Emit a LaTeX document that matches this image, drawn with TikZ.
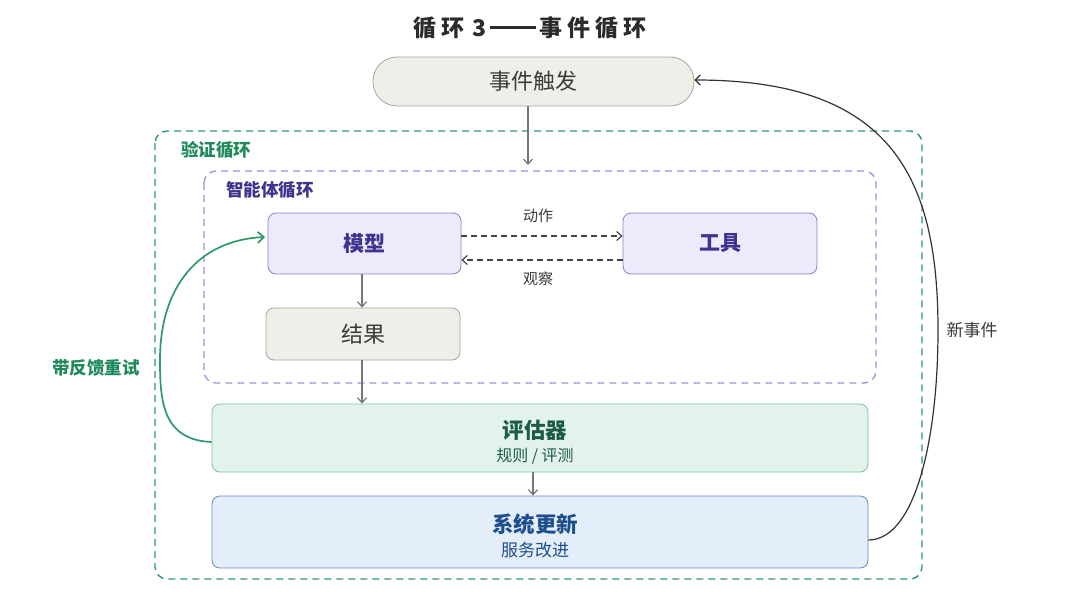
\documentclass[tikz,border=0pt]{standalone}
\usepackage{fontspec}
\setmainfont{Noto Sans CJK SC}
\usetikzlibrary{arrows.meta}
\definecolor{titlec}{HTML}{2B2B2B}
\definecolor{grayfill}{HTML}{F0EEE9}
\definecolor{graydraw}{HTML}{A9A59D}
\definecolor{graytext}{HTML}{3A3A3A}
\definecolor{greendash}{HTML}{2E9A6A}
\definecolor{greentext}{HTML}{1E8A5A}
\definecolor{purpdash}{HTML}{9D90DD}
\definecolor{purptext}{HTML}{3E348F}
\definecolor{modfill}{HTML}{ECEAFB}
\definecolor{moddraw}{HTML}{8A80D0}
\definecolor{evfill}{HTML}{E2F3EB}
\definecolor{evdraw}{HTML}{80C2A2}
\definecolor{evtext}{HTML}{1D5C44}
\definecolor{sysfill}{HTML}{E3EEFA}
\definecolor{sysdraw}{HTML}{6B8CC0}
\definecolor{systext}{HTML}{1E4F8C}
\definecolor{arrowgray}{HTML}{777777}
\definecolor{darkline}{HTML}{444444}
\tikzset{
  box/.style={draw, rounded corners=8pt, line width=0.8pt, inner sep=0pt},
  graybox/.style={box, fill=grayfill, draw=graydraw, text=graytext},
  modbox/.style={box, fill=modfill, draw=moddraw, text=purptext},
  flow/.style={draw=arrowgray, line width=1.2pt, -{Straight Barb[length=5pt,width=9pt]}},
  dflow/.style={draw=darkline, line width=1.2pt, dash pattern=on 6pt off 4pt, -{Straight Barb[length=5pt,width=9pt]}},
  lbl/.style={inner sep=0pt, font=\fontsize{15}{17}\selectfont, text=graytext},
}
\newcommand{\spc}[1]{{\addfontfeature{LetterSpace=22}#1}}
\begin{document}
\begin{tikzpicture}[x=1pt,y=-1pt]
\useasboundingbox (0,0) rectangle (1080,608);
\fill[white] (0,0) rectangle (1080,608);
% title
\node[inner sep=0pt, text=titlec, font=\fontsize{23}{26}\selectfont\bfseries] (title) at (530,28) {\spc{循环}\hspace{8pt}3\hspace{4pt}\raisebox{7.5pt}{\rule{46pt}{2.6pt}}\hspace{3pt}\spc{事件循环}};
% outer loop
\draw[greendash, line width=1.4pt, dash pattern=on 7pt off 5pt, rounded corners=12pt] (155,131) rectangle (922,579);
\node[inner sep=0pt, text=greentext, font=\fontsize{17.5}{19}\selectfont\bfseries] (vlabel) at (216,150) {验证循环};
% agent loop
\draw[purpdash, line width=1.3pt, dash pattern=on 7pt off 5pt, rounded corners=12pt] (204,171) rectangle (876,383);
\node[inner sep=0pt, text=purptext, font=\fontsize{17.5}{19}\selectfont\bfseries] (alabel) at (270,190) {智能体循环};
% nodes
\node[graybox, rounded corners=24pt, minimum width=321pt, minimum height=49pt, font=\fontsize{22}{25}\selectfont] (trig) at (533.5,81.5) {事件触发};
\node[modbox, minimum width=193pt, minimum height=61pt, font=\fontsize{21}{24}\selectfont\bfseries] (model) at (364.5,243.5) {模型};
\node[modbox, minimum width=194pt, minimum height=61pt, font=\fontsize{21}{24}\selectfont\bfseries] (tool) at (720,243.5) {工具};
\node[graybox, minimum width=194pt, minimum height=52pt, font=\fontsize{22}{25}\selectfont] (res) at (363,334) {结果};
\node[box, fill=evfill, draw=evdraw, text=evtext, minimum width=656pt, minimum height=68pt] (eval) at (540,438) {};
\node[inner sep=0pt, text=evtext, font=\fontsize{21.5}{24}\selectfont\bfseries] (evt) at (535,430) {评估器};
\node[inner sep=0pt, text=evtext, font=\fontsize{16}{18}\selectfont] (evs) at (535,456) {规则 / 评测};
\node[box, fill=sysfill, draw=sysdraw, text=systext, minimum width=656pt, minimum height=72pt] (sys) at (540,532) {};
\node[inner sep=0pt, text=systext, font=\fontsize{21.5}{24}\selectfont\bfseries] (syt) at (535,524) {系统更新};
\node[inner sep=0pt, text=systext, font=\fontsize{17}{19}\selectfont] (sys2) at (535,550) {服务改进};
% connectors
\draw[flow] (trig.south -| 528,0) -- (528,165);
\draw[dflow] (model.east |- 0,236) -- (tool.west |- 0,236);
\draw[dflow] (tool.west |- 0,260) -- (model.east |- 0,260);
\node[lbl] (act) at (538,216) {动作};
\node[lbl] (obs) at (538,279) {观察};
\draw[flow] (model.south -| 362,0) -- (res.north -| 362,0);
\draw[flow] (res.south -| 362,0) -- (eval.north -| 362,0);
\draw[flow] (eval.south -| 533,0) -- (sys.north -| 533,0);
% retry curve
\coordinate (rs) at (eval.west |- 0,442);
\coordinate (re) at (265,237);
\draw[greendash, line width=1.7pt, -{Straight Barb[length=6pt,width=11pt]}] (rs) .. controls (162,440) and (160,400) .. (160,360) .. controls (160,285) and (200,240) .. (re);
\node[inner sep=0pt, text=greentext, font=\fontsize{17.5}{19}\selectfont\bfseries] (retry) at (96,368) {带反馈重试};
% new event curve
\coordinate (ns) at (sys.east |- 0,540);
\coordinate (ne) at (trig.east |- 0,80);
\draw[black!80, line width=1.2pt, -{Straight Barb[length=5pt,width=10pt]}] (ns) .. controls (915,540) and (938,440) .. (938,330) .. controls (938,175) and (890,80) .. (ne);
\node[lbl, font=\fontsize{17}{19}\selectfont] (newev) at (972,330) {新事件};
\end{tikzpicture}
\end{document}
